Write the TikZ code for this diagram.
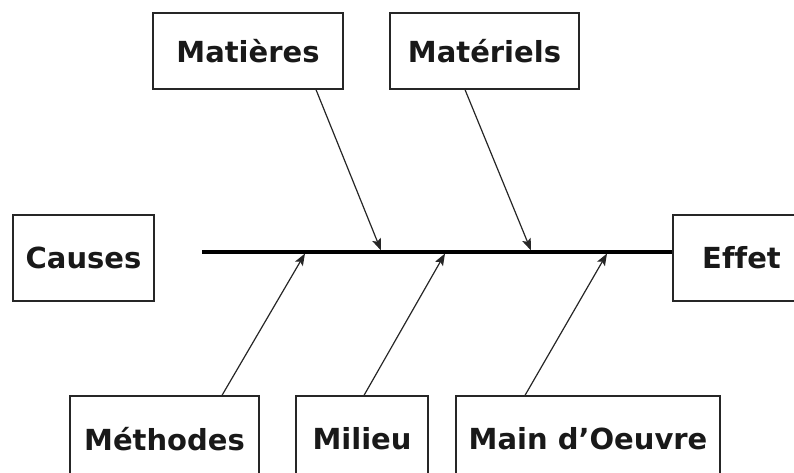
\documentclass[tikz,border=0pt]{standalone}
\usepackage{fontspec}
\setmainfont{DejaVu Sans}[Ligatures=CommonOff]
\usetikzlibrary{arrows.meta}
\begin{document}
\begin{tikzpicture}[x=1pt,y=-1pt,
  box/.style={draw=black!85, line width=1.3pt, fill=white, inner sep=0pt,
    font=\fontsize{29}{34}\selectfont\bfseries, text=black!90},
  bone/.style={line width=1.2pt, draw=black!85, -{Stealth[length=12pt,width=9pt,inset=2.5pt]}},
  spine/.style={line width=3.4pt, draw=black}]
\useasboundingbox (0,0) rectangle (794,472);
\node[box, minimum width=141pt, minimum height=86pt] (causes) at (83.5,258) {Causes};
\node[box, minimum width=190pt, minimum height=76pt] (matieres) at (248,51) {Matières};
\node[box, minimum width=189pt, minimum height=76pt] (materiels) at (484.5,51) {Matériels};
\node[box, minimum width=137pt, minimum height=86pt] (effet) at (741.5,258) {Effet};
\node[box, minimum width=189pt, minimum height=86pt] (methodes) at (164.5,439) {Méthodes};
\node[box, minimum width=132pt, minimum height=86pt] (milieu) at (362,439) {Milieu};
\node[box, minimum width=264pt, minimum height=86pt] (main) at (588,439) {Main d’Oeuvre};
\coordinate (tail) at (202,252);
\draw[spine] (tail) -- (effet.west |- tail);
\coordinate (t1) at (381,250.5);
\coordinate (t2) at (531,250.5);
\coordinate (b1) at (305,253.5);
\coordinate (b2) at (445,253.5);
\coordinate (b3) at (607,253.5);
\draw[bone] ([xshift=68pt]matieres.south) -- (t1);
\draw[bone] ([xshift=-19.5pt]materiels.south) -- (t2);
\draw[bone] ([xshift=57.5pt]methodes.north) -- (b1);
\draw[bone] ([xshift=2pt]milieu.north) -- (b2);
\draw[bone] ([xshift=-63pt]main.north) -- (b3);
\end{tikzpicture}
\end{document}
